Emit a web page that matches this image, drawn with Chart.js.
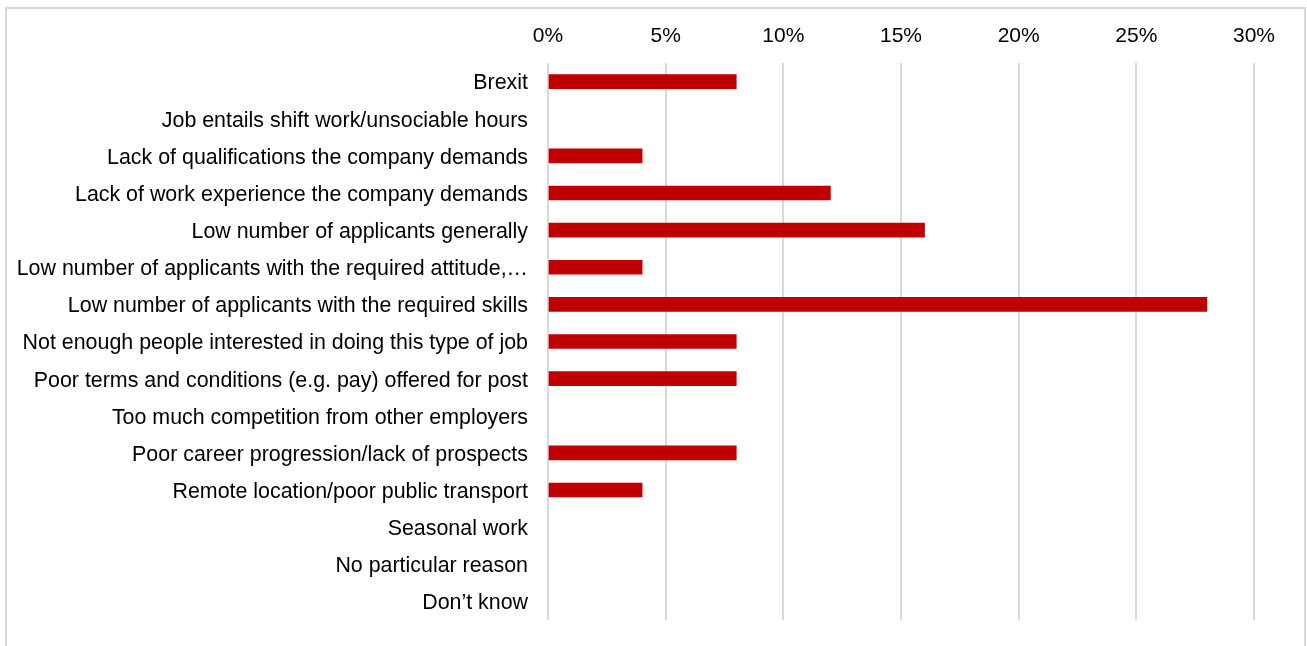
<!DOCTYPE html>
<html>
<head>
<meta charset="utf-8">
<script src="https://cdn.jsdelivr.net/npm/chart.js@4.4.1/dist/chart.umd.min.js"></script>
<style>
  html, body { margin: 0; padding: 0; background: #fff; }
  #wrap { position: relative; width: 1307px; height: 646px; overflow: hidden; }
  #frame {
    position: absolute; left: 5px; top: 7px; width: 1297px; height: 700px;
    border: 2px solid #d9d9d9; border-bottom: none;
  }
  #chart { position: absolute; left: 0; top: 0; }
</style>
</head>
<body>
<div id="wrap">
  <div id="frame"></div>
  <canvas id="chart" width="1307" height="646"></canvas>
</div>
<script>
const reasons = [
  'Brexit',
  'Job entails shift work/unsociable hours',
  'Lack of qualifications the company demands',
  'Lack of work experience the company demands',
  'Low number of applicants generally',
  'Low number of applicants with the required attitude,\u2026',
  'Low number of applicants with the required skills',
  'Not enough people interested in doing this type of job',
  'Poor terms and conditions (e.g. pay) offered for post',
  'Too much competition from other employers',
  'Poor career progression/lack of prospects',
  'Remote location/poor public transport',
  'Seasonal work',
  'No particular reason',
  'Don\u2019t know'
];
const shares = [8, 0, 4, 12, 16, 4, 28, 8, 8, 0, 8, 4, 0, 0, 0];
const pctTicks = [0, 5, 10, 15, 20, 25, 30];

const FONT = 'Liberation Sans, Arial, sans-serif';

new Chart(document.getElementById('chart'), {
  type: 'bar',
  data: {
    labels: reasons,
    datasets: [{
      data: shares,
      // zero rows get no sliver at the axis
      backgroundColor: c => (c.raw ? '#c00000' : 'rgba(0,0,0,0)'),
      borderWidth: 0,
      barThickness: 14
    }]
  },
  options: {
    indexAxis: 'y',
    responsive: false,
    animation: false,
    layout: { padding: { top: 20, right: 53, bottom: 26, left: 0 } },
    plugins: { legend: { display: false }, tooltip: { enabled: false } },
    scales: {
      x: {
        position: 'top',
        min: 0,
        max: 30,
        afterBuildTicks: s => { s.ticks = pctTicks.map(v => ({ value: v })); },
        afterFit: s => { s.height = 43; },
        ticks: {
          callback: v => v + '%',
          color: '#000',
          padding: 14,
          maxRotation: 0,
          font: { family: FONT, size: 21 }
        },
        grid: { color: '#d9d9d9', lineWidth: 2, drawTicks: false },
        border: { display: false }
      },
      y: {
        afterFit: s => {
          s.width = 548;
          s.paddingTop = 0;
          s.paddingBottom = 0;
        },
        ticks: {
          color: '#000',
          padding: 20,
          labelOffset: 2,
          font: { family: FONT, size: 21.4 },
          autoSkip: false
        },
        grid: { display: false, drawTicks: false },
        border: { display: false }
      }
    }
  }
});
</script>
</body>
</html>
